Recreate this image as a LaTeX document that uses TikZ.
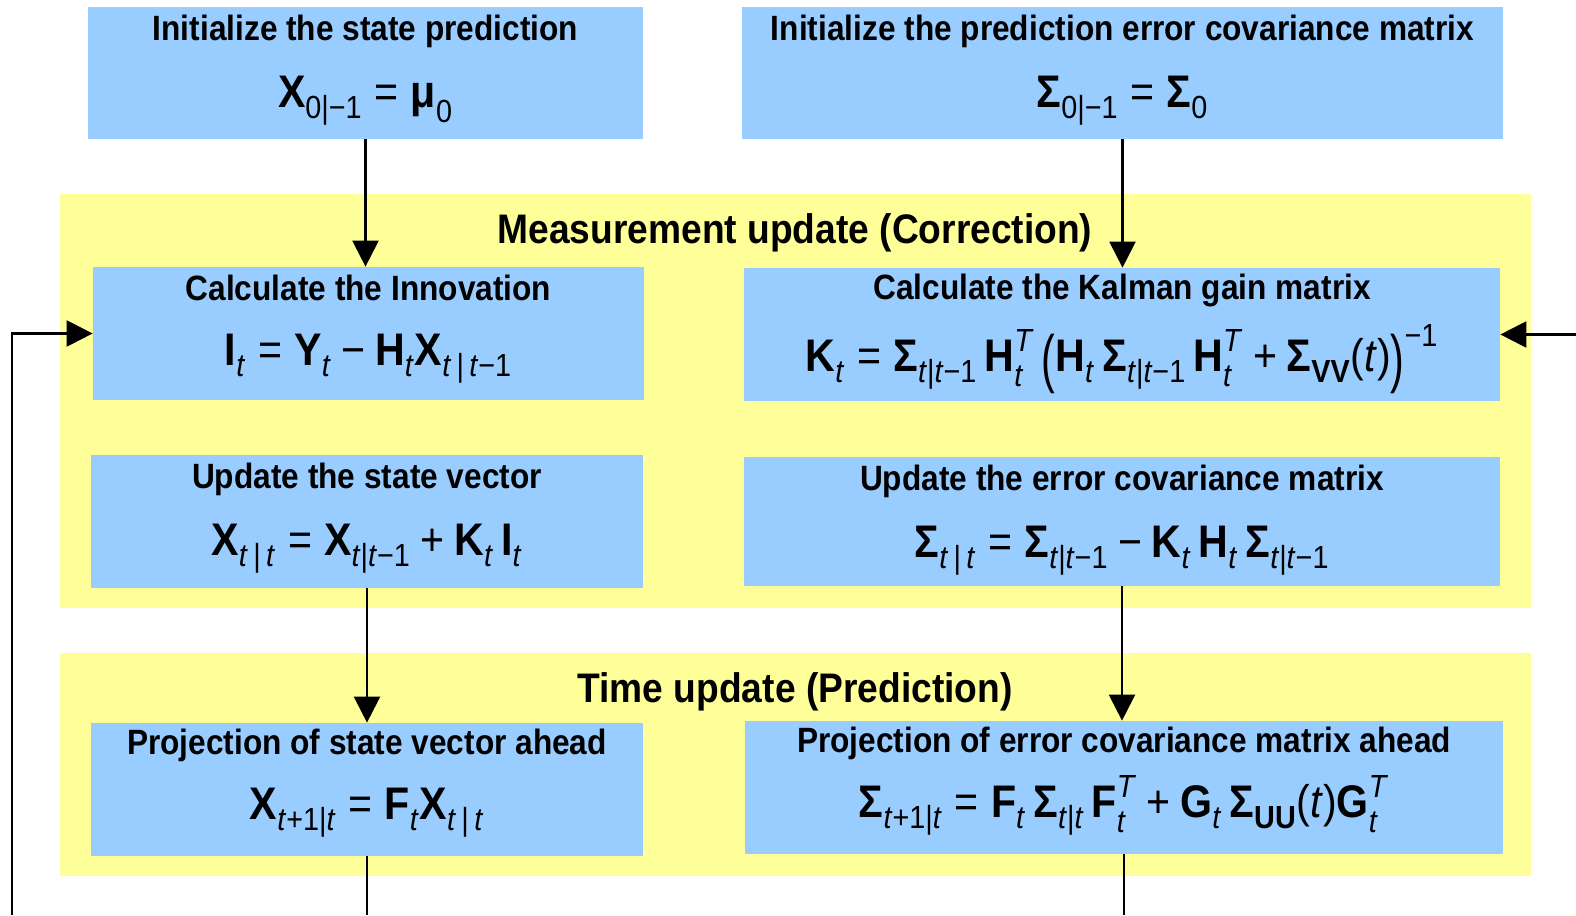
\documentclass[tikz,border=0pt]{standalone}
\usepackage{amsmath}
\usepackage{fontspec}
\setmainfont{Liberation Sans}[FakeStretch=0.9]
\usetikzlibrary{arrows.meta}

\definecolor{boxblue}{HTML}{99CCFF}
\definecolor{bandyellow}{HTML}{FFFF99}

% formula pieces: bold upright symbols, text sub/superscripts
\newcommand{\vb}[1]{\text{\normalfont\bfseries #1}}
\newcommand{\sbx}[1]{_{\text{\normalfont\raisebox{-0.12em}{#1}}}}
\newcommand{\spx}[1]{^{\text{\normalfont #1}}}
\newcommand{\eqs}{\mathrel{\text{\normalfont =}}}
\newcommand{\pls}{\mathbin{\text{\normalfont +}}}
\newcommand{\mns}{\mathbin{\text{\normalfont −}}}
\newcommand{\tallparen}[1]{\mathord{\text{\normalfont\raisebox{-0.2em}{\scalebox{1}[1.4]{#1}}}}}

\begin{document}
\begin{tikzpicture}[
    blk/.style={fill=boxblue, inner sep=0pt, minimum height=2.66cm},
    band/.style={fill=bandyellow},
    heading/.style={font=\bfseries\fontsize{20}{24}\selectfont, anchor=base, inner sep=0pt},
    formula/.style={font=\fontsize{26}{31}\selectfont, anchor=base, inner sep=0pt},
    bandtitle/.style={font=\bfseries\fontsize{23.5}{28}\selectfont, inner sep=0pt},
    wire/.style={line width=1.3pt},
    flow/.style={wire, -{Triangle[length=0.52cm, width=0.52cm]}}
  ]
  \def\headdrop{0.68cm}  % heading baseline below box top
  \def\formdrop{2.02cm}  % formula baseline below box top
  \useasboundingbox (0,0) rectangle (31.52,18.30);

  % yellow bands
  \fill[band] (1.20,6.14) rectangle (30.62,14.42);
  \fill[band] (1.20,0.78) rectangle (30.62,5.24);
  \node[bandtitle] (meas) at (15.90,13.64) {Measurement update (Correction)};
  \node[bandtitle] (time) at (15.90,4.46) {Time update (Prediction)};

  % blue boxes
  \node[blk, minimum width=11.10cm, minimum height=2.64cm] (initX) at (7.31,16.84) {};
  \node[blk, minimum width=15.22cm, minimum height=2.64cm] (initS) at (22.45,16.84) {};
  \node[blk, minimum width=11.02cm] (innov) at (7.37,11.63) {};
  \node[blk, minimum width=15.12cm] (gain) at (22.44,11.61) {};
  \node[blk, minimum width=11.04cm] (updX) at (7.34,7.87) {};
  \node[blk, minimum width=15.12cm, minimum height=2.58cm] (updS) at (22.44,7.87) {};
  \node[blk, minimum width=11.04cm] (projX) at (7.34,2.51) {};
  \node[blk, minimum width=15.16cm] (projS) at (22.48,2.55) {};

  % headings and formulas
  \node[heading] (initXh) at ([yshift=-\headdrop]initX.north) {Initialize the state prediction};
  \node[formula] (initXf) at ([yshift=-\formdrop]initX.north)
    {$\vb{X}\sbx{0|−1} \eqs \vb{μ}\sbx{0}$};
  \node[heading] (initSh) at ([yshift=-\headdrop]initS.north) {Initialize the prediction error covariance matrix};
  \node[formula] (initSf) at ([yshift=-\formdrop]initS.north)
    {$\vb{Σ}\sbx{0|−1} \eqs \vb{Σ}\sbx{0}$};

  \node[heading] (innovh) at ([yshift=-\headdrop]innov.north) {Calculate the Innovation};
  \node[formula] (innovf) at ([yshift=-1.98cm]innov.north)
    {$\vb{I}\sbx{\textit{t}} \eqs \vb{Y}\sbx{\textit{t}} \mns \vb{H}\sbx{\textit{t}}\vb{X}\sbx{\textit{t}\,|\,\textit{t}−1}$};
  \node[heading] (gainh) at ([yshift=-0.64cm]gain.north) {Calculate the Kalman gain matrix};
  \node[formula] (gainf) at ([yshift=-2.08cm]gain.north)
    {$\vb{K}\sbx{\textit{t}} \eqs \vb{Σ}\sbx{\textit{t}|\textit{t}−1}\,\vb{H}\spx{\textit{T}}\sbx{\textit{t}}
      \,\tallparen{(}\vb{H}\sbx{\textit{t}}\,\vb{Σ}\sbx{\textit{t}|\textit{t}−1}\,\vb{H}\spx{\textit{T}}\sbx{\textit{t}}
      \pls \vb{Σ}\sbx{\bfseries VV}\text{\normalfont(\textit{t})}\tallparen{)}\spx{−1}$};

  \node[heading] (updXh) at ([yshift=-\headdrop]updX.north) {Update the state vector};
  \node[formula] (updXf) at ([yshift=-\formdrop]updX.north)
    {$\vb{X}\sbx{\textit{t}\,|\,\textit{t}} \eqs \vb{X}\sbx{\textit{t}|\textit{t}−1} \pls \vb{K}\sbx{\textit{t}}\,\vb{I}\sbx{\textit{t}}$};
  \node[heading] (updSh) at ([yshift=-\headdrop]updS.north) {Update the error covariance matrix};
  \node[formula] (updSf) at ([yshift=-\formdrop]updS.north)
    {$\vb{Σ}\sbx{\textit{t}\,|\,\textit{t}} \eqs \vb{Σ}\sbx{\textit{t}|\textit{t}−1} \mns \vb{K}\sbx{\textit{t}}\,\vb{H}\sbx{\textit{t}}\,\vb{Σ}\sbx{\textit{t}|\textit{t}−1}$};

  \node[heading] (projXh) at ([yshift=-0.64cm]projX.north) {Projection of state vector ahead};
  \node[formula] (projXf) at ([yshift=-1.94cm]projX.north)
    {$\vb{X}\sbx{\textit{t}+1|\textit{t}} \eqs \vb{F}\sbx{\textit{t}}\vb{X}\sbx{\textit{t}\,|\,\textit{t}}$};
  \node[heading] (projSh) at ([yshift=-0.64cm]projS.north) {Projection of error covariance matrix ahead};
  \node[formula] (projSf) at ([yshift=-1.94cm]projS.north)
    {$\vb{Σ}\sbx{\textit{t}+1|\textit{t}} \eqs \vb{F}\sbx{\textit{t}}\,\vb{Σ}\sbx{\textit{t}|\textit{t}}\,\vb{F}\spx{\textit{T}}\sbx{\textit{t}}
      \pls \vb{G}\sbx{\textit{t}}\,\vb{Σ}\sbx{\bfseries UU}\text{\normalfont(\textit{t})}\vb{G}\spx{\textit{T}}\sbx{\textit{t}}$};

  % flow between boxes
  \draw[flow] (initX.south) -- (initX.south |- innov.north);
  \draw[flow] (initS.south) -- (initS.south |- gain.north);
  \draw[flow] (updX.south) -- (updX.south |- projX.north);
  \draw[flow] (updS.south) -- (updS.south |- projS.north);

  % feedback loop, leaving the frame
  \coordinate (loopL) at (0.24,0);
  \coordinate (loopR) at (31.52,11.61);
  \draw[wire] (projX.south) -- (projX.south |- loopL);
  \draw[wire] (projS.south) -- (projS.south |- loopL);
  \draw[flow] (loopL) |- (innov.west);
  \draw[flow] (loopR) -- (gain.east);
\end{tikzpicture}
\end{document}
